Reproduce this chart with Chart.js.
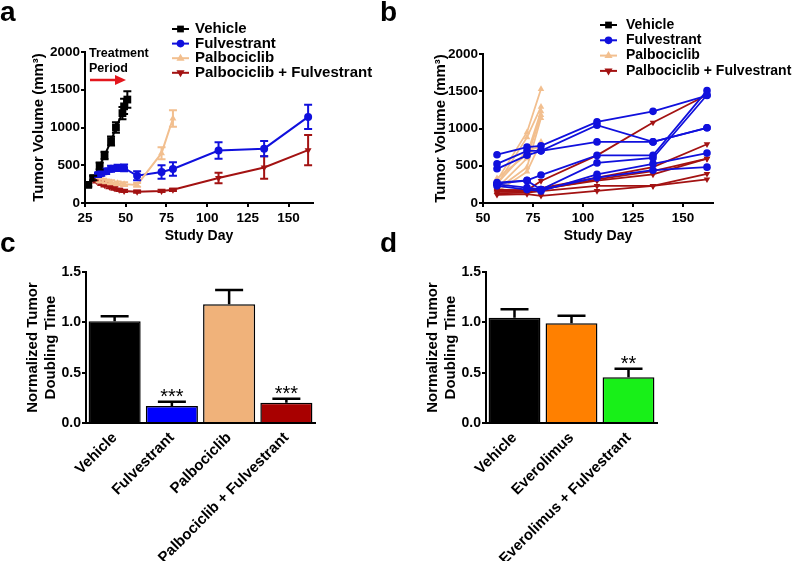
<!DOCTYPE html>
<html lang="en">
<head>
<meta charset="UTF-8">
<title>Tumor Volume and Doubling Time</title>
<script src="https://cdn.jsdelivr.net/npm/chart.js"></script>
<style>
  body { margin: 0; background: #fff; }
  #wrap { position: relative; width: 798px; height: 561px; overflow: hidden; font-family: "Liberation Sans", Arial, sans-serif; }
  .panel { position: absolute; }
  .tag { position: absolute; font-weight: bold; font-size: 28px; line-height: 1; }
</style>
</head>
<body>
<div id="wrap">
  <div class="panel" style="left:0;top:0;width:399px;height:250px"><canvas id="chartA"></canvas></div>
  <div class="panel" style="left:399px;top:0;width:399px;height:250px"><canvas id="chartB"></canvas></div>
  <div class="panel" style="left:0;top:240px;width:399px;height:321px"><canvas id="chartC"></canvas></div>
  <div class="panel" style="left:399px;top:240px;width:399px;height:321px"><canvas id="chartD"></canvas></div>
  <div class="tag" style="left:0;top:-2px">a</div>
  <div class="tag" style="left:380px;top:-2px">b</div>
  <div class="tag" style="left:0;top:229px">c</div>
  <div class="tag" style="left:380px;top:229px">d</div>
</div>

<script>
// ---- panel a: mean tumour volume (mm3) +/- SEM ----
const vehDays = [27, 30, 34, 37, 41, 44, 48, 49, 51];
const vehVol  = [240, 330, 490, 630, 820, 1000, 1190, 1280, 1370];
const vehErr  = [20, 30, 45, 50, 60, 70, 80, 100, 110];

const fulvDays = [33, 35, 38, 41, 45, 49, 57, 72, 79, 107, 135, 162];
const fulvVol  = [375, 395, 420, 455, 465, 465, 360, 410, 450, 695, 720, 1140];
const fulvErr  = [30, 35, 35, 40, 40, 45, 60, 90, 90, 110, 100, 160];

const palDays = [34, 36, 38, 41, 45, 49, 57, 72, 79];
const palVol  = [300, 295, 285, 275, 260, 250, 240, 660, 1120];
const palErr  = [25, 25, 25, 25, 25, 25, 25, 80, 110];

const comboDays = [32, 35, 37, 40, 43, 46, 49, 57, 72, 79, 107, 135, 162];
const comboVol  = [290, 260, 240, 215, 195, 175, 160, 150, 160, 175, 330, 470, 700];
const comboErr  = [20, 20, 20, 20, 20, 15, 15, 15, 15, 15, 70, 150, 200];

// ---- panel b: individual tumours ----
const daysB = [57, 72, 79, 107, 135, 162];
const palDaysB = [57, 72, 79];
const fulvMice = [
  [648, 750, 767, 1089, 1230, 1442],
  [525, 700, 700, 1045, 820, 1010],
  [459, 640, 700, 820, 820, 1010],
  [273, 304, 375, 639, 639, 1508],
  [251, 207, 181, 538, 604, 1450],
  [230, 180, 160, 384, 525, 670],
  [260, 300, 180, 340, 440, 481]
];
const palMice = [
  [300, 950, 1530],
  [250, 880, 1290],
  [330, 650, 1230],
  [200, 600, 1180],
  [180, 480, 1140],
  [150, 420, 820],
  [260, 700, 760]
];
const comboMice = [
  [180, 170, 295, 639, 1080, 1450],
  [170, 160, 200, 340, 481, 789],
  [150, 150, 180, 318, 428, 595],
  [130, 140, 160, 229, 229, 392],
  [110, 120, 97, 163, 229, 318],
  [160, 180, 190, 300, 384, 595]
];

// ---- panels c / d: normalised doubling time ----
const labelsC = ['Vehicle', 'Fulvestrant', 'Palbociclib', 'Palbociclib + Fulvestrant'];
const meansC  = [1.01, 0.17, 1.18, 0.20];
const errC    = [0.05, 0.04, 0.14, 0.04];
const starsC  = ['', '***', '', '***'];

const labelsD = ['Vehicle', 'Everolimus', 'Everolimus + Fulvestrant'];
const meansD  = [1.045, 0.99, 0.455];
const errD    = [0.085, 0.075, 0.085];
const starsD  = ['', '', '**'];

const groupNames = ['Vehicle', 'Fulvestrant', 'Palbociclib', 'Palbociclib + Fulvestrant'];
const groupColors = ['#000000', '#1010dd', '#f2bf8f', '#a31212'];
const groupMarks = ['rect', 'circle', 'triangle', 'triDown'];

const FONT = "'Liberation Sans', Arial, sans-serif";
Chart.defaults.font.family = FONT;
Chart.defaults.color = '#000';

function pts(xs, ys) { return xs.map((x, i) => ({ x: x, y: ys[i] })); }

function marker(ctx, style, x, y, r) {
  ctx.beginPath();
  if (style === 'rect') {
    ctx.rect(x - r * 0.75, y - r * 0.75, r * 1.5, r * 1.5);
  } else if (style === 'circle') {
    ctx.arc(x, y, r * 0.85, 0, Math.PI * 2);
  } else {
    const s = style === 'triDown' ? -1 : 1;
    ctx.moveTo(x, y - s * r);
    ctx.lineTo(x + r * 0.9, y + s * r * 0.55);
    ctx.lineTo(x - r * 0.9, y + s * r * 0.55);
    ctx.closePath();
  }
  ctx.fill();
}

// error bars from dataset.errors, through the y scale
const errorBars = {
  id: 'errorBars',
  afterDatasetsDraw(chart, args, opts) {
    const ctx = chart.ctx, ys = chart.scales.y;
    chart.data.datasets.forEach((ds, i) => {
      if (!ds.errors) return;
      const meta = chart.getDatasetMeta(i);
      ctx.save();
      ctx.strokeStyle = opts.color || ds.borderColor;
      ctx.lineWidth = opts.width;
      meta.data.forEach((el, j) => {
        const v = ds.data[j];
        const val = typeof v === 'object' ? v.y : v;
        const e = ds.errors[j];
        const top = ys.getPixelForValue(val + e);
        const bot = opts.upperOnly ? ys.getPixelForValue(val) : ys.getPixelForValue(val - e);
        ctx.beginPath();
        ctx.moveTo(el.x, top); ctx.lineTo(el.x, bot);
        ctx.moveTo(el.x - opts.cap, top); ctx.lineTo(el.x + opts.cap, top);
        if (!opts.upperOnly) { ctx.moveTo(el.x - opts.cap, bot); ctx.lineTo(el.x + opts.cap, bot); }
        ctx.stroke();
      });
      ctx.restore();
    });
  }
};

// legend drawn as line + marker + label
const markLegend = {
  id: 'markLegend',
  afterDraw(chart, args, o) {
    const ctx = chart.ctx;
    ctx.save();
    groupNames.forEach((name, i) => {
      const y = o.y0 + i * o.step;
      ctx.strokeStyle = groupColors[i];
      ctx.fillStyle = groupColors[i];
      ctx.lineWidth = 2;
      ctx.beginPath(); ctx.moveTo(o.x0, y); ctx.lineTo(o.x1, y); ctx.stroke();
      marker(ctx, groupMarks[i], (o.x0 + o.x1) / 2, y, 4.5);
      ctx.fillStyle = '#000';
      ctx.font = 'bold ' + o.size + 'px ' + FONT;
      ctx.textBaseline = 'middle';
      ctx.textAlign = 'left';
      ctx.fillText(name, o.textX, y);
    });
    ctx.restore();
  }
};

// treatment period note (panel a)
const treatNote = {
  id: 'treatNote',
  afterDraw(chart) {
    const ctx = chart.ctx;
    ctx.save();
    ctx.fillStyle = '#000';
    ctx.font = 'bold 12.5px ' + FONT;
    ctx.textBaseline = 'middle';
    ctx.fillText('Treatment', 89, 54);
    ctx.fillText('Period', 89, 69);
    ctx.strokeStyle = '#e3171d';
    ctx.fillStyle = '#e3171d';
    ctx.lineWidth = 2.5;
    ctx.beginPath(); ctx.moveTo(90, 80); ctx.lineTo(117, 80); ctx.stroke();
    ctx.beginPath(); ctx.moveTo(126, 80); ctx.lineTo(115, 75); ctx.lineTo(115, 85); ctx.closePath(); ctx.fill();
    ctx.restore();
  }
};

// significance stars above the error bars
const stars = {
  id: 'stars',
  afterDraw(chart, args, o) {
    const ctx = chart.ctx, xs = chart.scales.x, ys = chart.scales.y;
    const ds = chart.data.datasets[0];
    ctx.save();
    ctx.fillStyle = '#000';
    ctx.font = '20px ' + FONT;
    ctx.textAlign = 'center';
    ctx.textBaseline = 'alphabetic';
    o.marks.forEach((s, i) => {
      if (!s) return;
      ctx.fillText(s, xs.getPixelForValue(i), ys.getPixelForValue(ds.data[i] + ds.errors[i]) + 1);
    });
    ctx.restore();
  }
};

function axis(extra) {
  const a = {
    border: { color: '#000', width: 2 },
    grid: { drawOnChartArea: false, drawTicks: true, tickLength: 4, color: '#000', lineWidth: 2 },
    ticks: { color: '#000', font: { size: 13, weight: 'bold' }, padding: 2 }
  };
  return Object.assign(a, extra);
}

function volumeScales(xmin, ytitlePad, ywidth) {
  return {
    x: axis({
      type: 'linear', min: xmin, max: 165,
      ticks: { stepSize: 25, includeBounds: false, color: '#000', font: { size: 13.5, weight: 'bold' }, padding: 3, callback: v => String(v) },
      title: { display: true, text: 'Study Day', font: { size: 14, weight: 'bold' }, padding: { top: 0, bottom: 5 } },
      afterFit: s => { s.height = 47; }
    }),
    y: axis({
      min: 0, max: 2000,
      ticks: { stepSize: 500, color: '#000', font: { size: 13.5, weight: 'bold' }, padding: 1, callback: v => String(v) },
      title: { display: true, text: 'Tumor Volume (mm³)', font: { size: 15, weight: 'bold' }, padding: { top: ytitlePad, bottom: 0 } },
      afterFit: s => { s.width = ywidth; }
    })
  };
}

// ---------- Panel a ----------
const seriesA = [
  [vehDays, vehVol, vehErr],
  [fulvDays, fulvVol, fulvErr],
  [palDays, palVol, palErr],
  [comboDays, comboVol, comboErr]
];
new Chart(document.getElementById('chartA'), {
  type: 'line',
  data: {
    datasets: seriesA.map((s, i) => ({
      label: groupNames[i],
      data: pts(s[0], s[1]),
      errors: s[2],
      borderColor: groupColors[i],
      backgroundColor: groupColors[i],
      borderWidth: 2,
      pointStyle: groupMarks[i] === 'triDown' ? 'triangle' : groupMarks[i],
      rotation: groupMarks[i] === 'triDown' ? 180 : 0,
      pointRadius: groupMarks[i] === 'rect' ? 5.5 : 4,
      pointBorderWidth: 0,
      tension: 0
    })).reverse()
  },
  options: {
    responsive: true, maintainAspectRatio: false, animation: false,
    layout: { padding: { top: 52, right: 86, left: 0, bottom: 0 } },
    plugins: {
      legend: { display: false }, tooltip: { enabled: false },
      errorBars: { width: 2, cap: 4 },
      markLegend: { x0: 172, x1: 189, textX: 195, y0: 29, step: 14.6, size: 15 }
    },
    scales: volumeScales(25, 30, 85)
  },
  plugins: [errorBars, markLegend, treatNote]
});

// ---------- Panel b ----------
const dsB = [];
[[fulvMice, 1, daysB], [comboMice, 3, daysB], [palMice, 2, palDaysB]].forEach(g => {
  g[0].forEach(m => {
    const k = g[1];
    dsB.push({
      label: groupNames[k],
      data: pts(g[2], m),
      borderColor: groupColors[k],
      backgroundColor: groupColors[k],
      borderWidth: 1.8,
      pointStyle: groupMarks[k] === 'triDown' ? 'triangle' : groupMarks[k],
      rotation: groupMarks[k] === 'triDown' ? 180 : 0,
      pointRadius: 3.8,
      pointBorderWidth: 0,
      tension: 0
    });
  });
});
new Chart(document.getElementById('chartB'), {
  type: 'line',
  data: { datasets: dsB },
  options: {
    responsive: true, maintainAspectRatio: false, animation: false,
    layout: { padding: { top: 54, right: 85, left: 0, bottom: 0 } },
    plugins: {
      legend: { display: false }, tooltip: { enabled: false },
      markLegend: { x0: 201, x1: 218, textX: 227, y0: 25, step: 15.3, size: 14 }
    },
    scales: volumeScales(50, 33, 84)
  },
  plugins: [markLegend]
});

// ---------- Panels c and d ----------
function doublingChart(id, labels, means, errs, colors, marks, ywidth, padRight, titlePad) {
  new Chart(document.getElementById(id), {
    type: 'bar',
    data: {
      labels: labels,
      datasets: [{
        data: means,
        errors: errs,
        backgroundColor: colors,
        borderColor: '#000',
        borderWidth: 1.5,
        barPercentage: 0.91,
        categoryPercentage: 1.0
      }]
    },
    options: {
      responsive: true, maintainAspectRatio: false, animation: false,
      layout: { padding: { top: 32, right: padRight, left: 0, bottom: 0 } },
      plugins: {
        legend: { display: false }, tooltip: { enabled: false },
        errorBars: { width: 2.5, cap: 14, upperOnly: true, color: '#000' },
        stars: { marks: marks }
      },
      scales: {
        x: axis({
          grid: { drawOnChartArea: false, drawTicks: false },
          ticks: { color: '#000', font: { size: 15, weight: 'bold' }, padding: 6, minRotation: 45, maxRotation: 45, autoSkip: false },
          afterFit: s => { s.height = 138; }
        }),
        y: axis({
          min: 0, max: 1.5,
          ticks: { stepSize: 0.5, color: '#000', font: { size: 14, weight: 'bold' }, padding: 1, callback: v => v.toFixed(1) },
          title: { display: true, text: ['Normalized Tumor', 'Doubling Time'], font: { size: 15, weight: 'bold' }, lineHeight: 1.15, padding: { top: titlePad, bottom: 0 } },
          afterFit: s => { s.width = ywidth; }
        })
      }
    },
    plugins: [errorBars, stars]
  });
}

doublingChart('chartC', labelsC, meansC, errC, ['#000000', '#0000ff', '#f0b27a', '#a80000'], starsC, 86, 84, 24);
doublingChart('chartD', labelsD, meansD, errD, ['#000000', '#ff8000', '#18f018'], starsD, 87, 141, 25);
</script>
</body>
</html>
